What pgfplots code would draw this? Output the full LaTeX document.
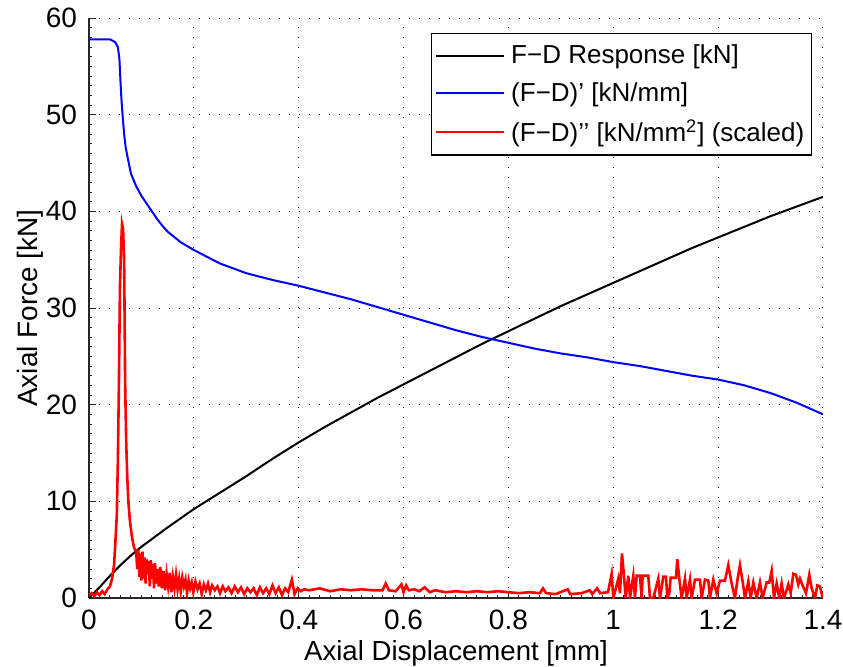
\documentclass[border=0pt]{standalone}
\usepackage{fontspec}
\setmainfont{Liberation Sans}
\usepackage{pgfplots}
\pgfplotsset{compat=1.18}
\newcommand{\fs}{\fontsize{13}{15}\selectfont}
\newcommand{\ft}{\fontsize{14}{16}\selectfont}
\begin{document}
\begin{tikzpicture}
\useasboundingbox (-44.5pt,-34pt) rectangle (377pt,299pt);
\begin{axis}[
  at={(0,0)}, anchor=south west,
  scale only axis, width=367pt, height=290pt,
  xmin=0, xmax=1.4, ymin=0, ymax=60,
  xtick={0,0.2,...,1.4}, ytick={0,10,...,60},
  xticklabels={0,0.2,0.4,0.6,0.8,1,1.2,1.4},
  minor x tick num=9, minor y tick num=9,
  axis lines*=left,
  axis line style={line width=0.7pt, black!85},
  tick align=inside,
  major tick length=3.3pt, minor tick length=1.5pt,
  every tick/.style={black!85, line width=0.5pt},
  grid=major,
  major grid style={black, line width=0.5pt, dash pattern=on 0.6pt off 4.4pt},
  /pgf/number format/assume math mode=true,
  ticklabel style={font=\ft},
  yticklabel style={xshift=-2.5pt},
  xticklabel style={yshift=-2.5pt},
  xlabel={Axial Displacement [mm]},
  ylabel={Axial Force [kN]},
  xlabel style={font=\fontsize{13.8}{16}\selectfont, at={(axis description cs:0.5,-0.0950)}, anchor=center},
  ylabel style={font=\ft, at={(axis description cs:-0.0804,0.5)}, anchor=center},
  legend style={at={(0.985,0.974)}, anchor=north east, draw=black, line width=0.7pt,
    font=\fs, row sep=3.8pt, inner xsep=1.5pt, inner ysep=3.5pt,
    cells={anchor=west}},
  legend image code/.code={\draw[#1] (6pt,0pt) -- (40pt,0pt); \path (41pt,0pt);},
  every axis plot/.append style={line width=1pt},
]
\addplot[black] coordinates {
(0,0) (0.02,1.1) (0.04,2.3) (0.06,3.4) (0.08,4.4) (0.1,5.3) (0.15,7.3) (0.2,9.2)
(0.25,10.9) (0.3,12.6) (0.35,14.4) (0.4,16.1) (0.45,17.7) (0.5,19.2) (0.55,20.7)
(0.6,22.1) (0.65,23.5) (0.7,24.9) (0.75,26.3) (0.8,27.6) (0.85,28.9) (0.9,30.2)
(0.95,31.4) (1.0,32.6) (1.05,33.8) (1.1,35.0) (1.15,36.2) (1.2,37.3) (1.25,38.4)
(1.3,39.5) (1.35,40.5) (1.4,41.5)
};
\addlegendentry{F−D Response [kN]}
\addplot[blue] coordinates {
(0,57.8) (0.04,57.8) (0.05,57.5) (0.055,57.0) (0.058,55.8) (0.060,53.5) (0.062,51.5)
(0.064,50.0) (0.067,48.0) (0.070,46.6) (0.074,45.5) (0.08,43.9) (0.09,42.6) (0.1,41.6)
(0.11,40.8) (0.12,40.0) (0.13,39.2) (0.14,38.5) (0.15,37.9) (0.175,36.8) (0.2,36.0) (0.25,34.6) (0.3,33.6)
(0.35,32.9) (0.4,32.3) (0.45,31.6) (0.5,30.9) (0.55,30.1) (0.6,29.3) (0.65,28.5)
(0.7,27.7) (0.75,27.0) (0.8,26.4) (0.85,25.8) (0.9,25.3) (0.95,24.9) (1.0,24.4)
(1.05,24.0) (1.1,23.5) (1.15,23.0) (1.2,22.6) (1.25,22.0) (1.3,21.2) (1.35,20.2) (1.4,19.0)
};
\addlegendentry{(F−D)’ [kN/mm]}
\addplot[red, line width=1.3pt] coordinates {
(0.000,0.3) (0.005,0.5) (0.01,0.2) (0.015,0.6) (0.02,0.3) (0.025,0.7) (0.03,0.4)
(0.035,0.9) (0.04,1.2) (0.044,2.0) (0.048,3.5) (0.051,6.5) (0.053,8.5) (0.055,14)
(0.057,22) (0.059,32) (0.061,36) (0.063,38.7) (0.065,38.2) (0.067,35) (0.069,22)
(0.071,16) (0.073,12.5) (0.075,10) (0.078,8) (0.082,6.3) (0.086,5.2) (0.09,4.8)
(0.092,3.0) (0.094,5.0) (0.096,2.2) (0.098,4.6) (0.100,1.8) (0.102,4.8) (0.104,2.0)
(0.106,4.2) (0.108,1.5) (0.110,4.0) (0.112,2.5) (0.114,3.8) (0.116,1.2) (0.118,3.9)
(0.120,2.0) (0.122,3.5) (0.124,1.0) (0.126,3.6) (0.128,1.5) (0.130,3.0) (0.133,1.2)
(0.136,3.2) (0.139,1.0) (0.142,2.8) (0.145,0.8) (0.148,2.5) (0.151,1.2) (0.154,2.6)
(0.157,0.6) (0.160,2.2) (0.163,1.0) (0.166,2.4) (0.169,0.9) (0.172,2.0) (0.175,0.7)
(0.178,2.1) (0.181,1.2) (0.184,1.9) (0.187,0.5) (0.190,1.8) (0.193,1.0) (0.196,1.6)
(0.199,0.6) (0.203,1.7) (0.207,0.9) (0.211,1.5) (0.215,0.4) (0.219,1.4) (0.223,0.8)
(0.227,1.5) (0.231,0.6) (0.235,1.3) (0.240,0.8) (0.245,1.2) (0.250,0.5) (0.255,1.2)
(0.260,0.7) (0.266,1.1) (0.272,0.5) (0.278,1.2) (0.284,0.6) (0.290,1.1) (0.296,0.4)
(0.302,1.0) (0.308,0.6) (0.314,1.0) (0.320,0.3) (0.326,1.1) (0.332,0.5) (0.338,1.0)
(0.344,0.4) (0.350,1.3) (0.356,0.5) (0.362,1.1) (0.368,0.3) (0.374,1.0) (0.380,0.6)
(0.387,1.9) (0.392,0.4) (0.398,1.0) (0.404,0.7) (0.410,0.9) (0.42,0.8) (0.44,1.0)
(0.46,0.7) (0.48,0.9) (0.50,0.8) (0.52,0.9) (0.54,0.8) (0.56,0.8) (0.566,1.5)
(0.572,0.8) (0.585,0.7) (0.596,1.4) (0.60,0.6) (0.605,1.3) (0.61,0.8) (0.62,0.9)
(0.63,0.7) (0.64,1.1) (0.65,0.6) (0.66,0.8) (0.68,0.6) (0.70,0.7) (0.72,0.6)
(0.74,0.7) (0.76,0.6) (0.78,0.7) (0.80,0.6) (0.82,0.5) (0.84,0.6) (0.86,0.5)
(0.866,1.0) (0.872,0.5) (0.89,0.4) (0.913,0.9) (0.918,0.4) (0.94,0.5) (0.955,0.8)
(0.96,0.4) (0.969,1.0) (0.975,0.5) (0.99,0.6) (0.9969,2.5) (1.0001,0)
(1.0096,2.0) (1.0128,0.5) (1.0166,4.6) (1.0204,2.3) (1.0236,0) (1.0287,2.3)
(1.0319,0) (1.0382,2.3) (1.0414,0) (1.0446,2.3) (1.0509,2.3) (1.0541,0) (1.0560,2.3)
(1.0668,2.3) (1.0700,0) (1.0764,0) (1.0859,2.0) (1.0891,0) (1.0954,2.2) (1.1005,2.2)
(1.1031,0) (1.1069,0.5) (1.1094,2.1) (1.1196,2.1) (1.1221,4.0) (1.1259,2.0)
(1.1304,0) (1.1368,2.0) (1.1399,0) (1.1463,1.9) (1.1495,0) (1.1558,1.9) (1.1654,1.9)
(1.1685,0) (1.1749,1.9) (1.1813,1.8) (1.1844,0) (1.1908,1.9) (1.1972,0.5)
(1.2035,1.8) (1.2130,1.8) (1.2194,3.4) (1.2258,1.5) (1.2321,0) (1.2366,1.8)
(1.2416,3.4) (1.2467,1.7) (1.2512,0) (1.2576,1.7) (1.2620,0) (1.2671,1.6)
(1.2735,0) (1.2798,1.6) (1.2849,0) (1.2925,1.6) (1.2976,1.6) (1.3021,2.8)
(1.3065,0) (1.3116,1.5) (1.3167,0) (1.3211,1.5) (1.3256,0) (1.3339,1.4)
(1.3383,0.5) (1.3434,2.5) (1.3485,2.4) (1.3529,1.4) (1.3561,2.0) (1.3612,1.3)
(1.3676,0.5) (1.3739,2.4) (1.3784,1.0) (1.3847,0) (1.3892,1.3) (1.3943,1.2) (1.3993,0)
};
\addlegendentry{(F−D)’’ [kN/mm\textsuperscript{2}] (scaled)}
\end{axis}
\end{tikzpicture}
\end{document}
